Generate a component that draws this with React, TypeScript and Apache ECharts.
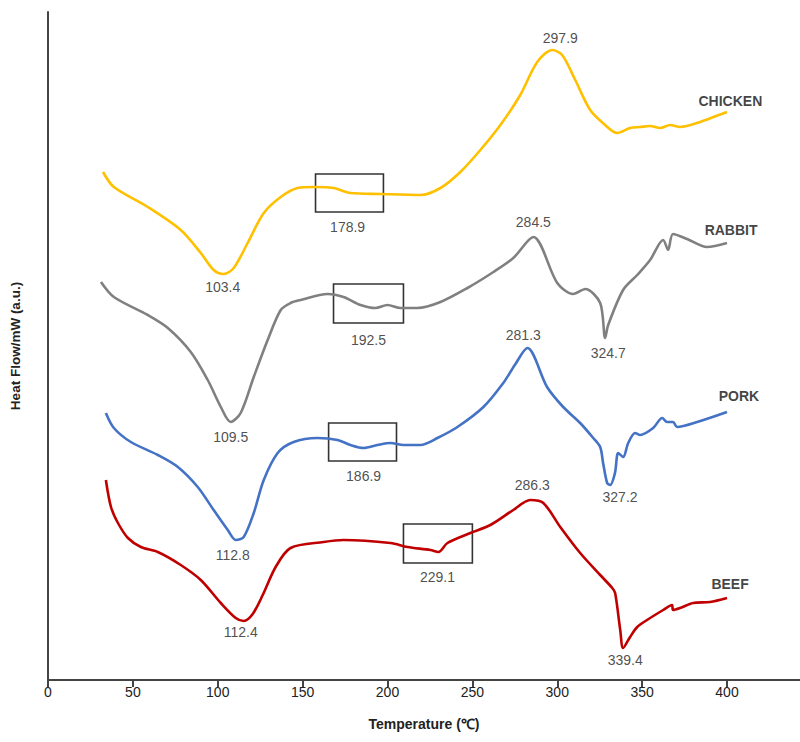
import React, { useEffect, useRef } from "react";
import * as echarts from "echarts";

// Temperature (°C) and heat flow (a.u.)
const chickenT = [32.4, 38.8, 58.8, 78.2, 90, 97.6, 103.5, 109.4, 117.6, 127.1, 137.1, 147.1, 156.5, 168.2, 178.2, 195.9, 219.4, 231.2, 242.9, 254.7, 266.5, 278.2, 288.2, 297.1, 302.9, 310.6, 319.4, 328.2, 335.3, 342.9, 348.8, 354.7, 360.6, 366.5, 372.4, 384.1, 400];
const chickenH = [508, 493, 473, 450, 427, 410, 406, 412, 437, 467, 483, 492, 493, 492, 487, 486, 485, 492, 508, 530, 555, 585, 618, 630, 625, 600, 570, 555, 547, 552, 553, 554, 552, 555, 553, 558, 568];

const rabbitT = [31.2, 38.8, 58.8, 70.6, 84.1, 94.1, 101.8, 107.6, 113.5, 121.2, 129.4, 137.1, 142.9, 148.8, 164.7, 174.1, 184.1, 192.9, 200, 207.6, 217.6, 231.2, 247.1, 262.4, 274.1, 285.9, 300, 309.4, 316.5, 325.3, 328.2, 330, 338.8, 347.1, 354.7, 362.4, 365.3, 368.2, 376.5, 388.2, 400];
const rabbitH = [398, 383, 365, 352, 328, 300, 273, 258, 267, 303, 340, 370, 377, 380, 386, 383, 375, 372, 375, 372, 372, 378, 392, 408, 422, 443, 397, 386, 391, 377, 342, 355, 390, 405, 420, 440, 430, 446, 441, 433, 437];

const porkT = [34.1, 38.8, 48.8, 64.7, 76.5, 88.2, 97.6, 105.9, 110.6, 115.3, 121.2, 127.1, 135.3, 144.7, 158.8, 170.6, 178.2, 185.9, 194.1, 201.8, 209.4, 219.4, 229.4, 241.2, 256.5, 268.2, 275, 282.4, 294, 303.5, 313.5, 321.2, 325.3, 327, 329.4, 331.2, 334, 335.9, 338.8, 341.8, 345.9, 348.8, 356.5, 361.8, 364.7, 368.2, 370.6, 382.4, 400];
const porkH = [267, 252, 238, 225, 213, 193, 170, 150, 140, 143, 167, 200, 227, 238, 242, 240, 235, 232, 235, 237, 235, 235, 242, 253, 273, 297, 315, 332, 293, 273, 257, 242, 233, 217, 197, 195, 207, 227, 223, 237, 247, 245, 252, 262, 258, 258, 253, 258, 268];

const beefT = [34.1, 37.1, 41.2, 47.1, 54.7, 64.7, 78.2, 90, 101.8, 110.6, 115.3, 120.6, 126.5, 134.1, 142.9, 162.4, 174.1, 201.8, 211.8, 225.3, 230, 235.3, 248.8, 260.6, 274.1, 284.1, 291.8, 301.8, 313.5, 325.3, 332.4, 334.1, 337.1, 338.8, 342.9, 347.1, 352.9, 362.4, 367.6, 368.2, 372.4, 380, 390, 400];
const beefH = [200, 173, 157, 142, 133, 128, 115, 100, 77, 62, 59, 66, 85, 113, 132, 138, 140, 137, 133, 130, 128, 137, 147, 155, 170, 180, 177, 153, 127, 105, 92, 87, 50, 32, 43, 53, 60, 70, 75, 70, 72, 77, 78, 82];

// Peak / onset annotations: [temperature, heat flow, text]
const valueLabels: [number, number, string][] = [
  [301.8, 642, "297.9"],
  [102.9, 393, "103.4"],
  [176.5, 453, "178.9"],
  [285.9, 458, "284.5"],
  [188.8, 340, "192.5"],
  [107.6, 243, "109.5"],
  [330, 327, "324.7"],
  [280, 345, "281.3"],
  [185.9, 204, "186.9"],
  [108.8, 125, "112.8"],
  [337, 183, "327.2"],
  [285.3, 195, "286.3"],
  [229.4, 103, "229.1"],
  [113.5, 48, "112.4"],
  [340, 20, "339.4"],
];
const nameLabels: [number, number, string][] = [
  [402, 579, "CHICKEN"],
  [402.4, 450, "RABBIT"],
  [407, 284, "PORK"],
  [401.8, 96, "BEEF"],
];
// Boxes: [T1, H1, T2, H2]
const chickenBox = [157.6, 468, 197.6, 506];
const rabbitBox = [168.2, 357, 209.4, 396];
const porkBox = [165.3, 219, 205.3, 257];
const beefBox = [209.4, 117, 250, 156];

const FONT = "'Liberation Sans', Arial, sans-serif";

function zip(t: number[], h: number[]) {
  return t.map((v, i) => [v, h[i]]);
}

function lineSeries(name: string, t: number[], h: number[], color: string, box: number[]) {
  return {
    name,
    type: "line",
    data: zip(t, h),
    showSymbol: false,
    smooth: 0.3,
    lineStyle: { color, width: 2.6 },
    itemStyle: { color },
    markArea: {
      silent: true,
      itemStyle: { color: "rgba(0,0,0,0)", borderColor: "#333", borderWidth: 1.6 },
      data: [[{ coord: [box[0], box[1]] }, { coord: [box[2], box[3]] }]],
    },
  };
}

export default function App() {
  const ref = useRef<HTMLDivElement>(null);
  useEffect(() => {
    document.body.style.margin = "0";
    if (!ref.current) return;
    const chart = echarts.init(ref.current, undefined, { renderer: "svg" });
    chart.setOption({
      animation: false,
      backgroundColor: "#fff",
      grid: { left: 46, right: 0, top: 12, bottom: 62 },
      xAxis: {
        type: "value",
        min: 0,
        max: 443,
        interval: 50,
        name: "Temperature (℃)",
        nameLocation: "middle",
        nameGap: 37,
        nameTextStyle: { fontFamily: FONT, fontSize: 14, fontWeight: "bold", color: "#222" },
        axisLine: { lineStyle: { color: "#444", width: 2 } },
        axisTick: { show: true, length: 7, lineStyle: { color: "#444", width: 2 } },
        axisLabel: {
          fontFamily: FONT,
          fontSize: 14,
          color: "#222",
          margin: 5,
          showMaxLabel: false,
          formatter: (v: number) => (v % 50 === 0 ? String(v) : ""),
        },
        splitLine: { show: false },
      },
      yAxis: {
        type: "value",
        min: 0,
        max: 668,
        name: "Heat Flow/mW (a.u.)",
        nameLocation: "middle",
        nameGap: 26,
        nameTextStyle: { fontFamily: FONT, fontSize: 13.5, fontWeight: "bold", color: "#222" },
        axisLine: { show: true, lineStyle: { color: "#444", width: 2 } },
        axisTick: { show: false },
        axisLabel: { show: false },
        splitLine: { show: false },
      },
      series: [
        lineSeries("CHICKEN", chickenT, chickenH, "#FFC000", chickenBox),
        lineSeries("RABBIT", rabbitT, rabbitH, "#808080", rabbitBox),
        lineSeries("PORK", porkT, porkH, "#4472C4", porkBox),
        lineSeries("BEEF", beefT, beefH, "#C00000", beefBox),
        {
          type: "scatter",
          silent: true,
          symbolSize: 0,
          data: valueLabels,
          label: {
            show: true,
            position: "inside",
            fontFamily: FONT,
            fontSize: 14,
            color: "#222",
            formatter: (p: any) => p.data[2],
          },
        },
        {
          type: "scatter",
          silent: true,
          symbolSize: 0,
          data: nameLabels,
          label: {
            show: true,
            position: "inside",
            fontFamily: FONT,
            fontSize: 14,
            fontWeight: "bold",
            color: "#111",
            formatter: (p: any) => p.data[2],
          },
        },
      ],
    });
    return () => chart.dispose();
  }, []);
  return <div ref={ref} style={{ width: 800, height: 742 }} />;
}
